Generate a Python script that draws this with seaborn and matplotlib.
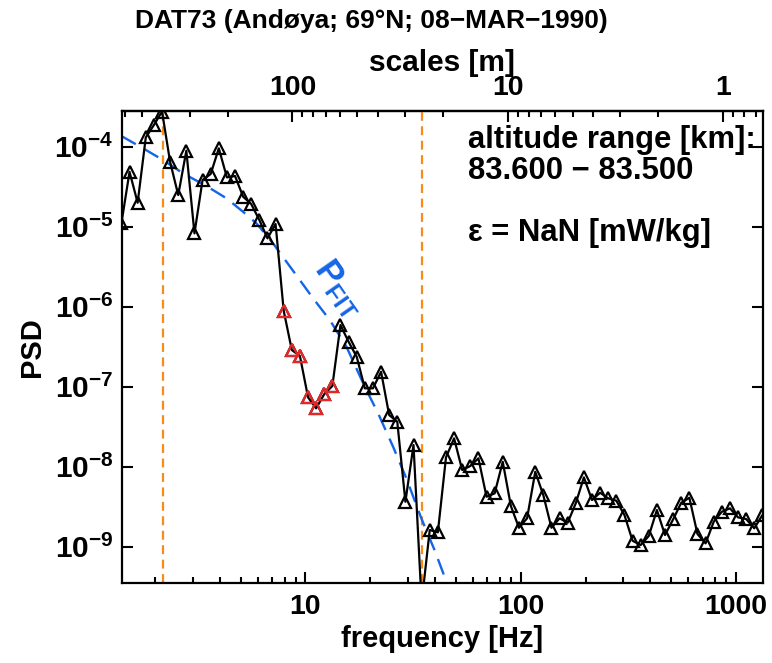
import matplotlib
matplotlib.use("Agg")
import matplotlib.pyplot as plt
from matplotlib.ticker import FixedLocator, NullLocator, NullFormatter, FuncFormatter
import numpy as np
import pandas as pd
import seaborn as sns

# frequency bins [Hz]
freq = [1.396, 1.523, 1.661, 1.812, 1.976, 2.156, 2.350, 2.564, 2.796, 3.050,
        3.326, 3.628, 3.957, 4.315, 4.707, 5.134, 5.598, 6.106, 6.660, 7.264,
        7.922, 8.640, 9.424, 10.28, 11.21, 12.23, 13.33, 14.54, 15.86, 17.30,
        18.87, 20.58, 22.45, 24.48, 26.70, 29.12, 31.76, 34.64, 37.78, 41.21,
        44.95, 49.02, 53.46, 58.31, 63.60, 69.36, 75.64, 82.50, 89.99, 98.13,
        107.0, 116.8, 127.3, 138.9, 151.5, 165.2, 180.1, 196.5, 214.3, 233.7,
        254.9, 278.0, 303.3, 330.7, 360.7, 393.4, 429.0, 468.0, 510.4, 556.7,
        607.2, 662.2, 722.3, 787.8, 859.2, 937.1, 1022, 1115, 1216, 1326]

# log10 of the power spectral density
log_psd = [-4.957, -4.313, -4.700, -3.883, -3.729, -3.560, -4.188, -4.604, -4.050, -5.083,
           -4.416, -4.341, -4.020, -4.383, -4.366, -4.625, -4.716, -4.916, -5.145, -4.966,
           -6.050, -6.541, -6.616, -7.133, -7.270, -7.091, -6.991, -6.229, -6.438, -6.625,
           -7.020, -7.020, -6.813, -7.354, -7.438, -8.438, -7.729, -9.700, -8.791, -8.820,
           -7.883, -7.645, -8.041, -7.991, -7.895, -8.375, -8.333, -7.938, -8.491, -8.763,
           -8.645, -8.063, -8.354, -8.763, -8.645, -8.700, -8.458, -8.133, -8.416, -8.325,
           -8.395, -8.425, -8.604, -8.925, -8.979, -8.866, -8.541, -8.854, -8.658, -8.450,
           -8.388, -8.841, -8.958, -8.688, -8.563, -8.520, -8.633, -8.654, -8.770, -8.604]

# points flagged in red
red_first, red_last = 20, 26

# fitted spectrum
fit_freq = [1.396, 1.760, 2.179, 2.699, 3.467, 4.296, 5.129, 5.920, 7.07, 8.16,
            9.41, 10.85, 12.97, 15.50, 18.86, 21.75, 25.53, 29.47, 34.59, 39.89,
            45.2, 47.9]
fit_log_psd = [-3.866, -4.020, -4.166, -4.333, -4.491, -4.645, -4.813, -4.958, -5.208, -5.438,
               -5.666, -5.895, -6.166, -6.500, -7.000, -7.333, -7.750, -8.150, -8.650, -9.050,
               -9.440, -9.666]

rocket_speed = 870.0        # m/s, frequency -> spatial scale
scale_bounds = [400, 25]    # m, limits of the fit range

x_ticks = [10, 100, 1000]
y_ticks = [1e-9, 1e-8, 1e-7, 1e-6, 1e-5, 1e-4]
scale_ticks = [100, 10, 1]

blue = '#1466e8'
orange = '#f98a1c'
red = '#e8262a'

df = pd.DataFrame({'freq': freq, 'psd': np.power(10.0, log_psd)})
fit = pd.DataFrame({'freq': fit_freq, 'psd': np.power(10.0, fit_log_psd)})

sns.set_style('ticks')
plt.rcParams['font.family'] = ['Liberation Sans', 'DejaVu Sans']
plt.rcParams['font.weight'] = 'bold'
plt.rcParams['axes.labelweight'] = 'bold'
plt.rcParams['text.color'] = 'black'
plt.rcParams['axes.labelcolor'] = 'black'
plt.rcParams['axes.edgecolor'] = 'black'
plt.rcParams['xtick.color'] = 'black'
plt.rcParams['ytick.color'] = 'black'
plt.rcParams['mathtext.fontset'] = 'custom'
plt.rcParams['mathtext.bf'] = 'Liberation Sans:bold'
plt.rcParams['mathtext.rm'] = 'Liberation Sans:bold'
plt.rcParams['mathtext.it'] = 'Liberation Sans:bold'

fig = plt.figure(figsize=(7.72, 6.63), dpi=100)
ax = fig.add_axes([0.1576, 0.1202, 0.8303, 0.7128])
ax.set_xscale('log')
ax.set_yscale('log')

# fit range boundaries
for s in scale_bounds:
    ax.axvline(rocket_speed / s, color=orange, lw=1.6, ls=(0, (4, 2.5)), zorder=1)

sns.lineplot(data=fit, x='freq', y='psd', ax=ax, color=blue, lw=1.7,
             linestyle=(0, (7, 4)), zorder=2)
sns.lineplot(data=df, x='freq', y='psd', ax=ax, color='k', lw=1.6,
             marker='^', markersize=9, mfc='none', mec='k', mew=1.6, zorder=3)
sub = df.iloc[red_first:red_last + 1]
ax.plot(sub['freq'], sub['psd'], ls='none', marker='^', markersize=9,
        mfc='none', mec=red, mew=1.6, zorder=4)

ax.set_xlim(1.40, 1330)
ax.set_ylim(3.49e-10, 2.82e-4)

ax.text(14.3, 1.7e-6, r'$\mathbf{P}_{\mathbf{FIT}}$', color=blue, fontsize=25,
        rotation=-55, ha='center', va='center', rotation_mode='anchor')

ax.xaxis.set_major_locator(FixedLocator(x_ticks))
ax.xaxis.set_major_formatter(FuncFormatter(lambda v, p: f'{v:g}'))
ax.xaxis.set_minor_formatter(NullFormatter())
ax.yaxis.set_major_locator(FixedLocator(y_ticks))
ax.yaxis.set_minor_locator(NullLocator())
ax.yaxis.set_major_formatter(FuncFormatter(
    lambda v, p: r'$\mathbf{10}^{\mathbf{%d}}$' % round(np.log10(v))))

ax.tick_params(which='both', direction='in', top=False, right=True, width=1.5, pad=8)
ax.tick_params(axis='x', labelsize=20.5)
ax.tick_params(axis='y', labelsize=21.5, pad=6)
ax.tick_params(which='major', length=8)
ax.tick_params(which='minor', length=4)
for sp in ax.spines.values():
    sp.set_linewidth(1.6)

ax.set_xlabel('frequency [Hz]', fontsize=21, labelpad=3)
ax.set_ylabel('PSD', fontsize=21, labelpad=6)

secax = ax.secondary_xaxis('top', functions=(lambda f: rocket_speed / np.maximum(f, 1e-12),
                                             lambda s: rocket_speed / np.maximum(s, 1e-12)))
secax.xaxis.set_major_locator(FixedLocator(scale_ticks))
secax.xaxis.set_major_formatter(FuncFormatter(lambda v, p: f'{v:g}'))
secax.xaxis.set_minor_formatter(NullFormatter())
secax.tick_params(which='both', direction='in', width=1.5, labelsize=20.5, pad=7)
secax.tick_params(which='major', length=8)
secax.tick_params(which='minor', length=4)
secax.spines['top'].set_linewidth(1.6)
secax.set_xlabel('scales [m]', fontsize=21.5, labelpad=3)

ax.text(0.54, 0.938, 'altitude range [km]:', transform=ax.transAxes,
        fontsize=22.3, ha='left', va='center')
ax.text(0.54, 0.872, '83.600 \u2212 83.500', transform=ax.transAxes,
        fontsize=22.3, ha='left', va='center')
ax.text(0.54, 0.741, '\u03b5 = NaN [mW/kg]', transform=ax.transAxes,
        fontsize=22.3, ha='left', va='center')

fig.text(0.175, 0.969, 'DAT73 (And\u00f8ya; 69\u00b0N; 08\u2212MAR\u22121990)',
         fontsize=19, ha='left', va='center')

fig.savefig('out.png', dpi=100)
